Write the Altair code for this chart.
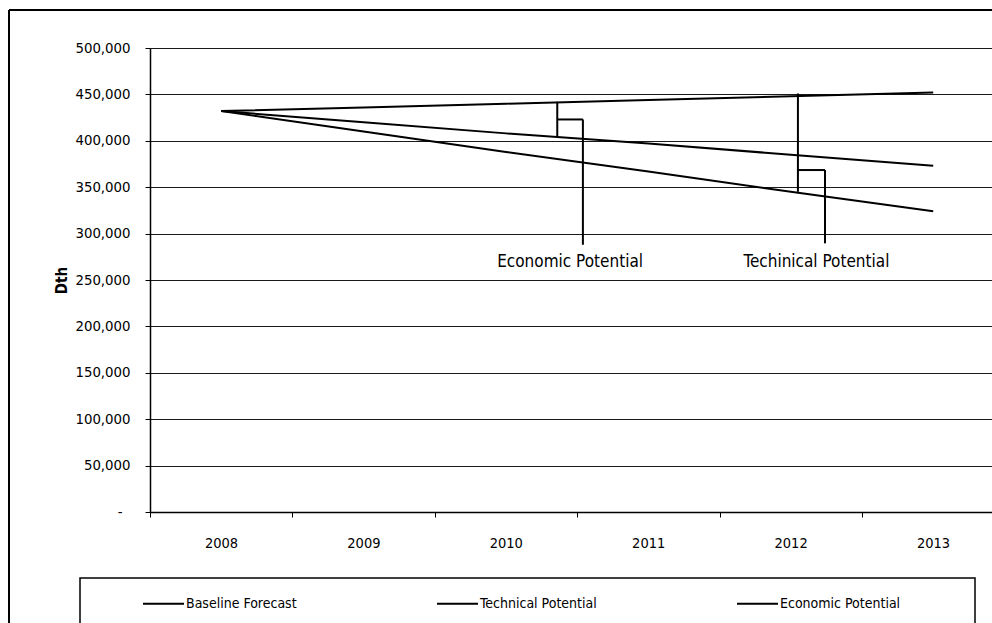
import altair as alt
import pandas as pd

# ---- data ----
years = [2008, 2009, 2010, 2011, 2012, 2013]
baseline = [432000, 436000, 440000, 444000, 448000, 452000]
technical = [432000, 410000, 388000, 367000, 345000, 324000]
economic = [432000, 420000, 408000, 397000, 385000, 373000]
series_names = ["Baseline Forecast", "Technical Potential", "Economic Potential"]

y_tick_values = [0, 50000, 100000, 150000, 200000, 250000, 300000, 350000, 400000, 450000, 500000]
x_tick_edges = [2007.5, 2008.5, 2009.5, 2010.5, 2011.5, 2012.5]

# annotation bracket segments (data units)
bracket_x = [2010.36, 2010.36, 2010.54, 2012.05, 2012.05, 2012.24]
bracket_x2 = [2010.36, 2010.54, 2010.54, 2012.05, 2012.24, 2012.24]
bracket_y = [442000, 423000, 423000, 451000, 368500, 368500]
bracket_y2 = [405000, 423000, 288000, 345000, 368500, 289500]

ann_labels = ["Economic Potential", "Techinical Potential"]
ann_x = [2010.45, 2012.18]
ann_y = [269000, 269000]

FONT = "DejaVu Sans Condensed, Liberation Sans, sans-serif"

rows = []
for name, vals in zip(series_names, [baseline, technical, economic]):
    for yr, v in zip(years, vals):
        rows.append({"year": yr, "value": v, "series": name})
df = pd.DataFrame(rows)

br = pd.DataFrame({"x": bracket_x, "x2": bracket_x2, "y": bracket_y, "y2": bracket_y2})
ann = pd.DataFrame({"label": ann_labels, "x": ann_x, "y": ann_y})

PLOT_W = 842
xscale = alt.Scale(domain=[2007.5, 2007.5 + PLOT_W / 142.4], nice=False, zero=False)
yscale = alt.Scale(domain=[0, 500000], nice=False, zero=True)

xaxis = alt.Axis(
    values=x_tick_edges,
    labelExpr="format(datum.value + 0.5, 'd')",
    labelOffset=71,
    labelFlush=False,
    labelOverlap=False,
    grid=False,
    domainColor="black",
    domainWidth=1.5,
    tickColor="black",
    tickSize=5,
    labelPadding=19,
    labelFont=FONT,
    labelFontSize=14.5,
    labelColor="black",
    title=None,
)
yaxis = alt.Axis(
    values=y_tick_values,
    labelExpr="datum.value == 0 ? '-' : format(datum.value, ',')",
    labelFlush=False,
    labelOverlap=False,
    grid=True,
    gridColor="#1a1a1a",
    gridWidth=1.2,
    domainColor="black",
    domainWidth=1.5,
    tickColor="black",
    tickSize=5,
    labelPadding={"condition": {"test": "datum.value == 0", "value": 23}, "value": 15},
    labelFont=FONT,
    labelFontSize=14.8,
    labelColor="black",
    title="Dth",
    titleFont=FONT,
    titleFontSize=15,
    titleFontWeight="bold",
    titleColor="black",
    titlePadding=5,
)

lines = alt.Chart(df).mark_line(strokeWidth=2).encode(
    x=alt.X("year:Q", scale=xscale, axis=xaxis),
    y=alt.Y("value:Q", scale=yscale, axis=yaxis),
    color=alt.Color(
        "series:N",
        scale=alt.Scale(domain=series_names, range=["black", "black", "black"]),
        legend=alt.Legend(
            title=None,
            orient="none",
            legendX=-8,
            legendY=534,
            direction="horizontal",
            symbolType="stroke",
            symbolSize=1681,
            symbolStrokeWidth=2,
            labelFont=FONT,
            labelFontSize=14,
            labelColor="black",
            labelOffset=1,
            columnPadding=136,
            padding=0,
        ),
    ),
    detail="series:N",
)

brackets = alt.Chart(br).mark_rule(color="black", strokeWidth=2).encode(
    x="x:Q", x2="x2:Q", y="y:Q", y2="y2:Q"
)

labels = alt.Chart(ann).mark_text(
    font=FONT, fontSize=17, color="black", align="center", baseline="middle"
).encode(x="x:Q", y="y:Q", text="label:N")

one = pd.DataFrame({"k": [0]})
frame_top = alt.Chart(one).mark_rule(color="black", strokeWidth=2).encode(
    x=alt.value(-141), x2=alt.value(PLOT_W + 10), y=alt.value(-38)
)
frame_left = alt.Chart(one).mark_rule(color="black", strokeWidth=2).encode(
    x=alt.value(-141), y=alt.value(-38), y2=alt.value(600)
)
legend_box = alt.Chart(one).mark_rect(
    fillOpacity=0, stroke="black", strokeWidth=1.5
).encode(x=alt.value(-70), x2=alt.value(825), y=alt.value(530), y2=alt.value(620))

chart = alt.layer(lines, brackets, labels, frame_top, frame_left, legend_box).properties(
    width=PLOT_W,
    height=464,
    autosize=alt.AutoSizeParams(type="none"),
    padding={"left": 150, "top": 48, "right": 0, "bottom": 111},
    background="white",
).configure_view(stroke=None)

chart.save("out.html", embed_options={"renderer": "svg", "actions": False})
